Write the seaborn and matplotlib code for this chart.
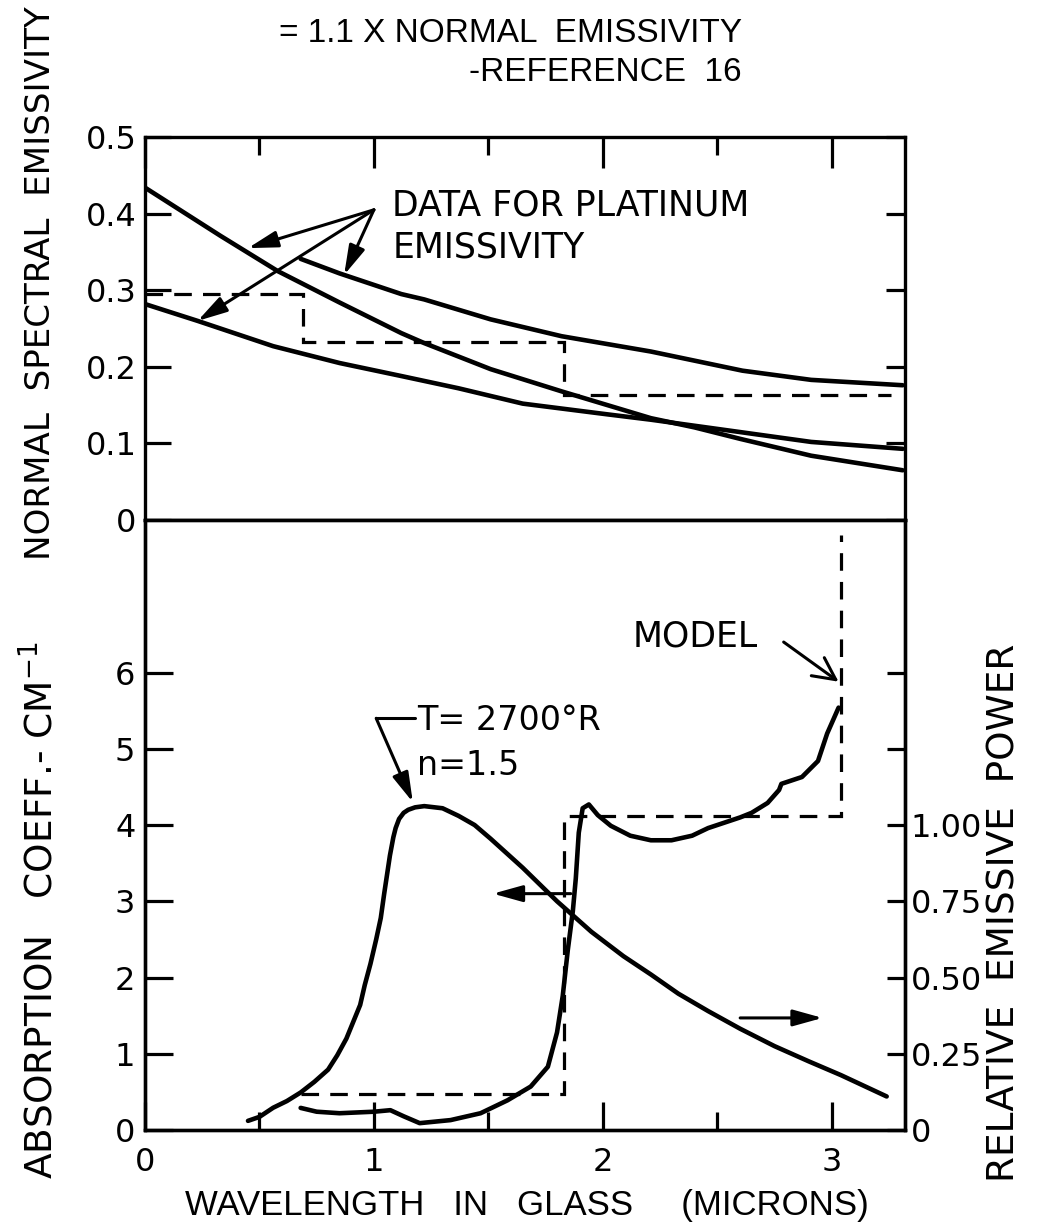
import matplotlib
matplotlib.use('Agg')
import matplotlib.pyplot as plt
import seaborn as sns

sns.set_theme(style='white')
plt.rcParams['font.family'] = ['DejaVu Sans']
for key in ['text.color', 'axes.labelcolor', 'xtick.color', 'ytick.color', 'axes.edgecolor']:
    plt.rcParams[key] = 'black'
narrow = ['Liberation Sans Narrow', 'Liberation Sans', 'DejaVu Sans']

# --- upper panel: normal spectral emissivity of platinum ---
emis_a_x = [0.0, 0.33, 0.58, 0.85, 1.12, 1.22, 1.51, 1.82, 2.21, 2.40, 2.60, 2.91, 3.31]
emis_a_y = [0.434, 0.371, 0.325, 0.284, 0.244, 0.231, 0.197, 0.168, 0.133, 0.121, 0.106, 0.084, 0.065]
emis_b_x = [0.68, 0.85, 1.12, 1.22, 1.51, 1.82, 2.21, 2.61, 2.91, 3.31]
emis_b_y = [0.341, 0.322, 0.295, 0.288, 0.262, 0.240, 0.220, 0.195, 0.183, 0.176]
emis_c_x = [0.0, 0.23, 0.56, 0.85, 1.12, 1.37, 1.65, 2.02, 2.21, 2.50, 2.91, 3.31]
emis_c_y = [0.282, 0.260, 0.227, 0.205, 0.188, 0.172, 0.152, 0.138, 0.131, 0.119, 0.102, 0.093]
emis_step_edges = [0.0, 0.69, 1.83, 3.26]
emis_step_levels = [0.295, 0.233, 0.163]

# --- lower panel: absorption coefficient of glass (cm^-1) ---
absorb_x = [0.68, 0.75, 0.85, 1.00, 1.072, 1.13, 1.20, 1.335, 1.466, 1.584, 1.685, 1.76,
            1.80, 1.825, 1.847, 1.869, 1.882, 1.895, 1.912, 1.939, 1.978, 2.035, 2.12,
            2.21, 2.30, 2.39, 2.46, 2.60, 2.65, 2.72, 2.77, 2.78, 2.81, 2.87, 2.94, 2.98, 3.03]
absorb_y = [0.29, 0.24, 0.22, 0.24, 0.26, 0.18, 0.09, 0.13, 0.22, 0.39, 0.57, 0.83,
            1.28, 1.76, 2.36, 2.87, 3.30, 3.90, 4.22, 4.27, 4.13, 3.99, 3.86,
            3.80, 3.80, 3.86, 3.96, 4.10, 4.16, 4.29, 4.46, 4.54, 4.57, 4.63, 4.84, 5.20, 5.54]
model_edges = [0.68, 1.83, 3.04, 3.04]
model_levels = [0.47, 4.12, 7.8]

# relative emissive power, T = 2700 R, n = 1.5 (right axis)
planck_x = [0.45, 0.50, 0.56, 0.62, 0.68, 0.74, 0.80, 0.84, 0.88, 0.91, 0.94, 0.96, 0.985,
            1.01, 1.03, 1.045, 1.06, 1.07, 1.085, 1.095, 1.11, 1.13, 1.15, 1.18, 1.22,
            1.30, 1.37, 1.44, 1.51, 1.65, 1.80, 1.95, 2.09, 2.21, 2.33, 2.46, 2.60, 2.75,
            2.90, 3.04, 3.24]
planck_y = [0.030, 0.043, 0.073, 0.095, 0.123, 0.158, 0.198, 0.245, 0.30, 0.355, 0.41, 0.475,
            0.545, 0.625, 0.695, 0.775, 0.85, 0.90, 0.96, 0.99, 1.02, 1.04, 1.05, 1.058, 1.062,
            1.055, 1.03, 1.0, 0.955, 0.86, 0.75, 0.65, 0.57, 0.51, 0.447, 0.39, 0.332, 0.275,
            0.225, 0.18, 0.11]

upper_ticks = [0, 0.1, 0.2, 0.3, 0.4, 0.5]
upper_labels = ['0', '0.1', '0.2', '0.3', '0.4', '0.5']
lower_ticks = [0, 1, 2, 3, 4, 5, 6]
right_ticks = [0, 0.25, 0.5, 0.75, 1.0, 1.25, 1.5]
right_labels = ['0', '0.25', '0.50', '0.75', '1.00', '', '']

fig = plt.figure(figsize=(10.37, 12.28), dpi=100)
ax1 = fig.add_axes([0.1398, 0.5765, 0.7329, 0.3119])
ax2 = fig.add_axes([0.1398, 0.0798, 0.7329, 0.4967], sharex=ax1)
ax2r = ax2.twinx()

lw = 3.3
dash = (5.5, 3.5)

sns.lineplot(x=emis_a_x, y=emis_a_y, ax=ax1, color='black', lw=lw, sort=False, estimator=None)
sns.lineplot(x=emis_b_x, y=emis_b_y, ax=ax1, color='black', lw=lw, sort=False, estimator=None)
sns.lineplot(x=emis_c_x, y=emis_c_y, ax=ax1, color='black', lw=lw, sort=False, estimator=None)
ax1.stairs(emis_step_levels, emis_step_edges, color='black', lw=2.3, linestyle=(0, dash), baseline=None)

sns.lineplot(x=absorb_x, y=absorb_y, ax=ax2, color='black', lw=lw, sort=False, estimator=None)
ax2.stairs(model_levels, model_edges, color='black', lw=2.3, linestyle=(0, dash), baseline=None)
sns.lineplot(x=planck_x, y=planck_y, ax=ax2r, color='black', lw=lw, sort=False, estimator=None)

for ax in (ax1, ax2, ax2r):
    for s in ax.spines.values():
        s.set_linewidth(2.4)
        s.set_color('black')
    ax.set_xlabel('')
    ax.set_ylabel('')

tick_font = 23

ax1.set_xlim(0, 3.32)
ax1.set_ylim(0, 0.5)
ax1.set_yticks(upper_ticks)
ax1.set_yticklabels(upper_labels)
ax1.set_xticks([1, 2, 3])
ax1.set_xticks([0.5, 1.5, 2.5], minor=True)
ax1.tick_params(axis='x', which='both', direction='in', top=True, bottom=False,
                labelbottom=False, labeltop=False, width=2.3)
ax1.tick_params(axis='x', which='major', length=22)
ax1.tick_params(axis='x', which='minor', length=13)
ax1.tick_params(axis='y', direction='in', left=True, right=True, length=19, width=2.3,
                labelsize=tick_font, pad=6)
for t in ax1.yaxis.get_major_ticks():
    t.tick2line.set_markersize(14)

ax2.set_ylim(0, 8)
ax2.set_yticks(lower_ticks)
ax2.set_yticklabels([str(v) for v in lower_ticks])
ax2.set_xticks([0, 1, 2, 3])
ax2.set_xticklabels(['0', '1', '2', '3'])
ax2.tick_params(axis='x', which='both', direction='in', bottom=True, top=False,
                labelbottom=True, width=2.3, labelsize=tick_font, pad=12)
ax2.tick_params(axis='x', which='major', length=20)
ax2.tick_params(axis='x', which='minor', length=13)
ax2.tick_params(axis='y', direction='in', left=True, right=False, length=20, width=2.3,
                labelsize=tick_font, pad=7)

ax2r.set_ylim(0, 2)
ax2r.set_yticks(right_ticks)
ax2r.set_yticklabels(right_labels)
ax2r.tick_params(axis='y', direction='in', left=False, right=True, length=13, width=2.3,
                 labelsize=tick_font, pad=4)

# annotations, upper panel
ax1.text(1.08, 0.41, 'DATA FOR PLATINUM', fontsize=25, va='center', ha='left')
ax1.text(1.08, 0.356, 'EMISSIVITY', fontsize=25, va='center', ha='left')
arrow_filled = dict(arrowstyle='-|>,head_length=0.9,head_width=0.25', color='black', lw=2.2,
                    shrinkA=0, shrinkB=0, mutation_scale=20)
for tip in [(0.45, 0.355), (0.87, 0.32), (0.23, 0.26)]:
    ax1.annotate('', xy=tip, xytext=(1.0, 0.405), arrowprops=arrow_filled)

# annotations, lower panel
ax2.text(1.19, 5.37, 'T= 2700°R', fontsize=24, va='center', ha='left')
ax2.text(1.19, 4.78, 'n=1.5', fontsize=24, va='center', ha='left')
ax2.plot([1.01, 1.18], [5.4, 5.4], color='black', lw=2.2)
ax2.annotate('', xy=(1.17, 4.3), xytext=(1.01, 5.4), arrowprops=arrow_filled)
ax2.text(2.13, 6.47, 'MODEL', fontsize=25, va='center', ha='left')
ax2.annotate('', xy=(3.03, 5.88), xytext=(2.79, 6.4),
             arrowprops=dict(arrowstyle='->,head_length=0.8,head_width=0.4', color='black', lw=2.2,
                             shrinkA=0, shrinkB=0, mutation_scale=20))
ax2.annotate('', xy=(1.52, 3.1), xytext=(1.86, 3.1), arrowprops=arrow_filled)
ax2.annotate('', xy=(2.96, 1.47), xytext=(2.60, 1.47), arrowprops=arrow_filled)

# axis titles
fig.text(0.039, (1228 - 560) / 1228, 'NORMAL  SPECTRAL  EMISSIVITY', rotation=90,
         ha='center', va='bottom', fontsize=24.6)
fig.text(0.7155, 0.973, '= 1.1 X NORMAL  EMISSIVITY', ha='right', va='center',
         fontsize=24, family=narrow)
fig.text(0.7155, 0.9406, '-REFERENCE  16', ha='right', va='center', fontsize=24, family=narrow)
fig.text(0.039, 0.259, 'ABSORPTION   COEFF.- CM$^{-1}$', rotation=90, ha='center',
         va='center', fontsize=27)
fig.text(0.969, 0.2565, 'RELATIVE  EMISSIVE  POWER', rotation=90, ha='center',
         va='center', fontsize=27)
fig.text(0.508, 1 - 1206 / 1228, 'WAVELENGTH   IN   GLASS     (MICRONS)', ha='center',
         va='center', fontsize=25, family=narrow)

fig.savefig('out.png', dpi=100)
